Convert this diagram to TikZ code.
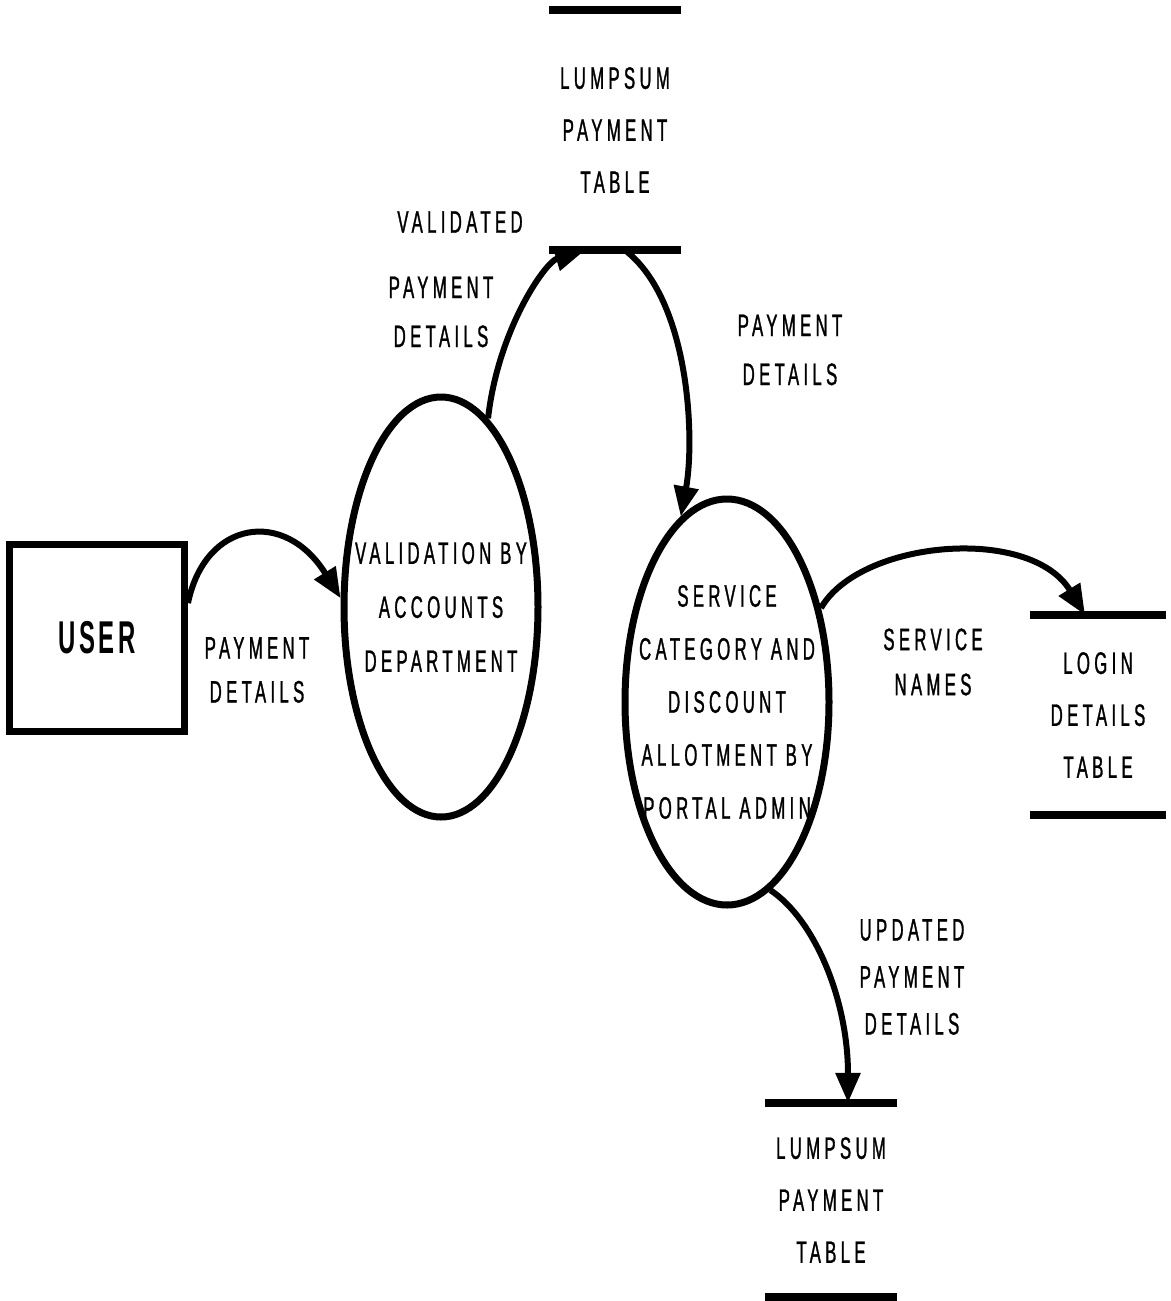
\documentclass[tikz,border=0pt]{standalone}
\usepackage{fontspec}
\setmainfont{Liberation Sans}
\newfontfamily\dfdfont[FakeStretch=0.54,LetterSpace=14,FakeBold=1]{Liberation Sans}
\newfontfamily\dfdbold[FakeStretch=0.52,LetterSpace=8]{Liberation Sans Bold}
\usetikzlibrary{shapes.geometric,arrows.meta}
\begin{document}
\begin{tikzpicture}[x=1pt,y=-1pt,
  lbl/.style={font=\dfdfont\fontsize{31}{52}\selectfont, align=center, inner sep=0pt},
  proc/.style={ellipse, draw, line width=7pt, inner sep=0pt},
  entity/.style={draw, line width=7pt, inner sep=0pt, font=\dfdbold\fontsize{46}{48}\selectfont},
  store/.style={lbl},
  flow/.style={line width=6pt, -{Triangle[length=30pt,width=24pt]}},
  bar/.style={line width=8pt}]
\useasboundingbox (0,0) rectangle (1170,1301);

% external entity
\node[entity, minimum width=175pt, minimum height=187pt] (user) at (97,638) {USER};

% processes: outline first, then the process name on top
\node[proc, minimum width=194pt, minimum height=420pt] (v1) at (441,607) {};
\node[lbl, font=\dfdfont\fontsize{31}{54}\selectfont] (v1t) at (v1.center)
  {VALIDATION BY\\ACCOUNTS\\DEPARTMENT};
\node[proc, minimum width=204pt, minimum height=406pt] (v2) at (727,702) {};
\node[lbl, font=\dfdfont\fontsize{31}{53}\selectfont] (v2t) at (v2.center)
  {SERVICE\\CATEGORY AND\\DISCOUNT\\ALLOTMENT BY\\PORTAL ADMIN};

% data stores
\node[store, minimum width=132pt, minimum height=240pt] (top) at (615,130) {LUMPSUM\\PAYMENT\\TABLE};
\node[store, minimum width=135pt, minimum height=200pt] (login) at (1098,715) {LOGIN\\DETAILS\\TABLE};
\node[store, minimum width=132pt, minimum height=194pt] (bot) at (831,1200) {LUMPSUM\\PAYMENT\\TABLE};
\foreach \s in {top,login,bot}{
  \draw[bar] (\s.north west) -- (\s.north east);
  \draw[bar] (\s.south west) -- (\s.south east);
}

% data flows
\draw[flow] (user.21) .. controls (205,520) and (285,508) .. (v1.175);
\draw[flow] (v1.76) .. controls (498,330) and (545,262) .. ([xshift=-30pt]top.south);
\draw[flow] ([xshift=10pt]top.south) .. controls (690,300) and (695,440) .. (v2.104);
\draw[flow] (v2.45) .. controls (860,540) and (1030,525) .. ([xshift=-13pt]login.north);
\draw[flow] (v2.-77) .. controls (815,920) and (848,1000) .. ([xshift=17pt]bot.north);

% flow labels
\node[lbl, font=\dfdfont\fontsize{31}{44}\selectfont] (l1) at (257,670) {PAYMENT\\DETAILS};
\node[lbl] (l2a) at (460,222) {VALIDATED};
\node[lbl, font=\dfdfont\fontsize{31}{49}\selectfont] (l2b) at (441,312) {PAYMENT\\DETAILS};
\node[lbl, font=\dfdfont\fontsize{31}{49}\selectfont] (l3) at (790,350) {PAYMENT\\DETAILS};
\node[lbl, font=\dfdfont\fontsize{31}{45}\selectfont] (l4) at (933,662) {SERVICE\\NAMES};
\node[lbl, font=\dfdfont\fontsize{31}{47}\selectfont] (l5) at (912,977) {UPDATED\\PAYMENT\\DETAILS};
\end{tikzpicture}
\end{document}
